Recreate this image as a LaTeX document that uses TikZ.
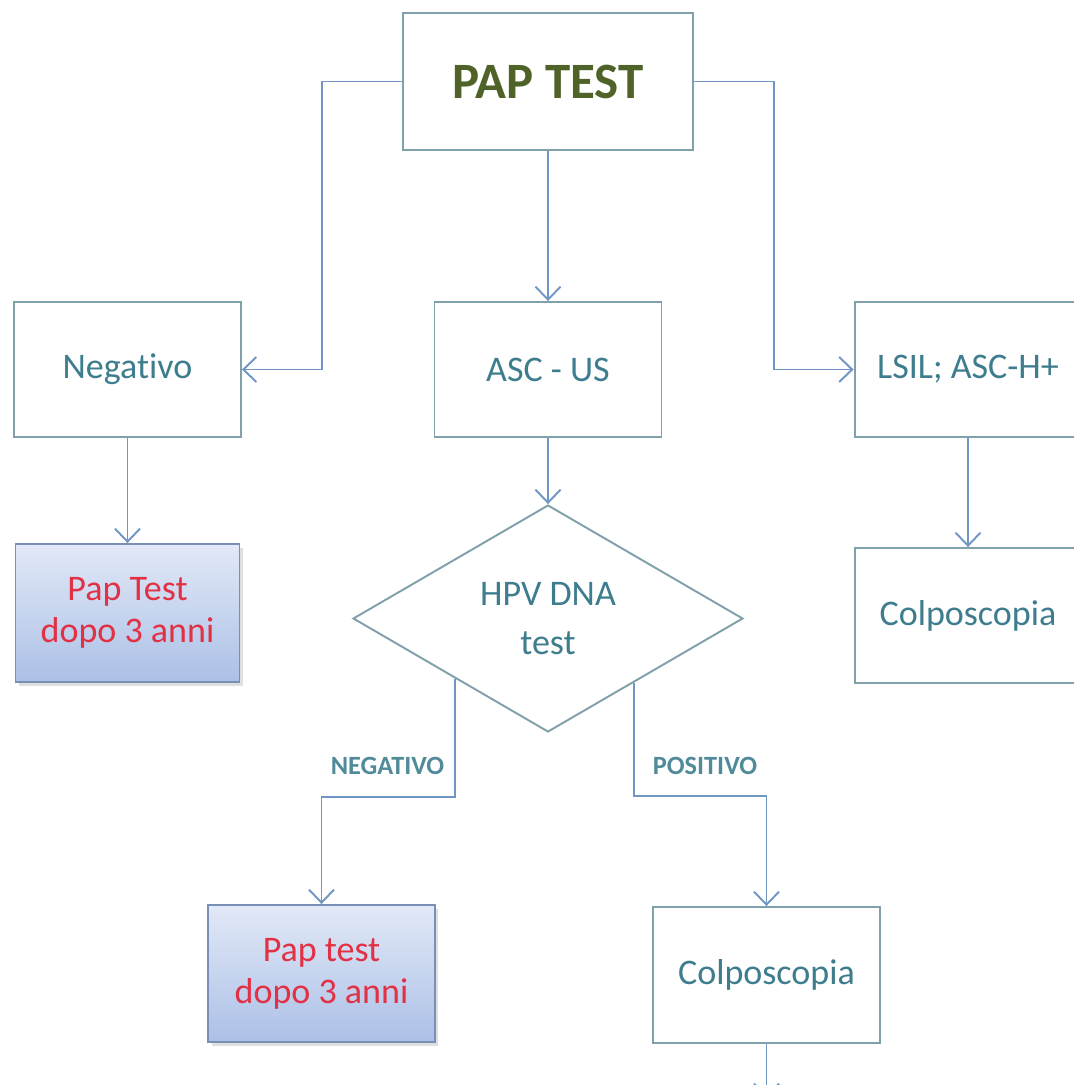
\documentclass[tikz,border=0pt]{standalone}
\usepackage{fontspec}
\setmainfont{Carlito}[Ligatures=NoCommon]
\usetikzlibrary{arrows.meta,shapes.geometric,shadows}

\definecolor{linea}{RGB}{112,150,196}
\definecolor{bordo}{RGB}{128,160,170}
\definecolor{bordoblu}{RGB}{122,142,182}
\definecolor{testo}{RGB}{62,125,142}
\definecolor{verdepap}{RGB}{79,98,40}
\definecolor{rosso}{RGB}{226,48,68}
\definecolor{chiaro}{RGB}{226,233,247}
\definecolor{scuro}{RGB}{172,192,230}

\tikzset{
  scatola/.style={draw=bordo, line width=1.1pt, fill=white, text=testo,
    font=\fontsize{20.5}{24}\selectfont, align=center,
    minimum width=4.54cm, minimum height=2.7cm},
  esito/.style={scatola, draw=bordoblu, text=rosso,
    top color=chiaro, bottom color=scuro,
    drop shadow={opacity=0.25, shadow xshift=2pt, shadow yshift=-2pt}},
  rombo/.style={diamond, draw=bordo, line width=1.1pt, text=testo,
    font=\fontsize{20.5}{28}\selectfont, align=center, inner sep=0pt,
    minimum width=7.8cm, minimum height=4.54cm},
  freccia/.style={draw=linea, line width=1.1pt,
    -{Straight Barb[length=2.6mm, width=5mm]}},
  etichetta/.style={text=testo!90!white, font=\fontsize{15}{18}\bfseries}
}

\begin{document}
\begin{tikzpicture}[x=0.02cm, y=-0.02cm]
\useasboundingbox (0,0) rectangle (1074,1085);
% Test iniziale
\node[scatola, minimum width=5.8cm, minimum height=2.74cm, text=verdepap,
  font=\fontsize{29}{34}\bfseries] (pap) at (548,81.5) {PAP TEST};
% Risultati
\node[scatola] (neg) at (127.5,369.5) {Negativo};
\node[scatola] (asc) at (548,369.5) {ASC - US};
\node[scatola] (lsil) at (968,369.5) {LSIL; ASC-H+};
% Seconda fila
\node[esito, minimum width=4.48cm, minimum height=2.76cm] (papneg) at (127.5,613) {Pap Test\\dopo 3 anni};
\node[rombo] (hpv) at (548,618.5) {HPV DNA\\test};
\node[scatola] (colpdx) at (968,615.5) {Colposcopia};
% Esito HPV
\node[esito, minimum height=2.74cm] (paphpv) at (321.5,973.5) {Pap test\\dopo 3 anni};
\node[scatola, minimum height=2.72cm] (colpgiu) at (766.5,975) {Colposcopia};
\node[etichetta] (lneg) at (387.5,766) {NEGATIVO};
\node[etichetta] (lpos) at (705,766) {POSITIVO};
\coordinate (fine) at (766.5,1098);
% Frecce
\draw[freccia] (pap.west) -- ++(-80,0) |- (neg.east);
\draw[freccia] (pap.east) -- ++(80,0) |- (lsil.west);
\draw[freccia] (pap.south) -- (asc.north);
\draw[freccia] (neg.south) -- (papneg.north);
\draw[freccia] (asc.south) -- (hpv.north);
\draw[freccia] (lsil.south) -- (colpdx.north);
\draw[freccia] (hpv.-147) -- ++(0,118) -| (paphpv.north);
\draw[freccia] (hpv.-37) -- ++(0,113) -| (colpgiu.north);
\draw[freccia] (colpgiu.south) -- (fine);
\end{tikzpicture}
\end{document}
